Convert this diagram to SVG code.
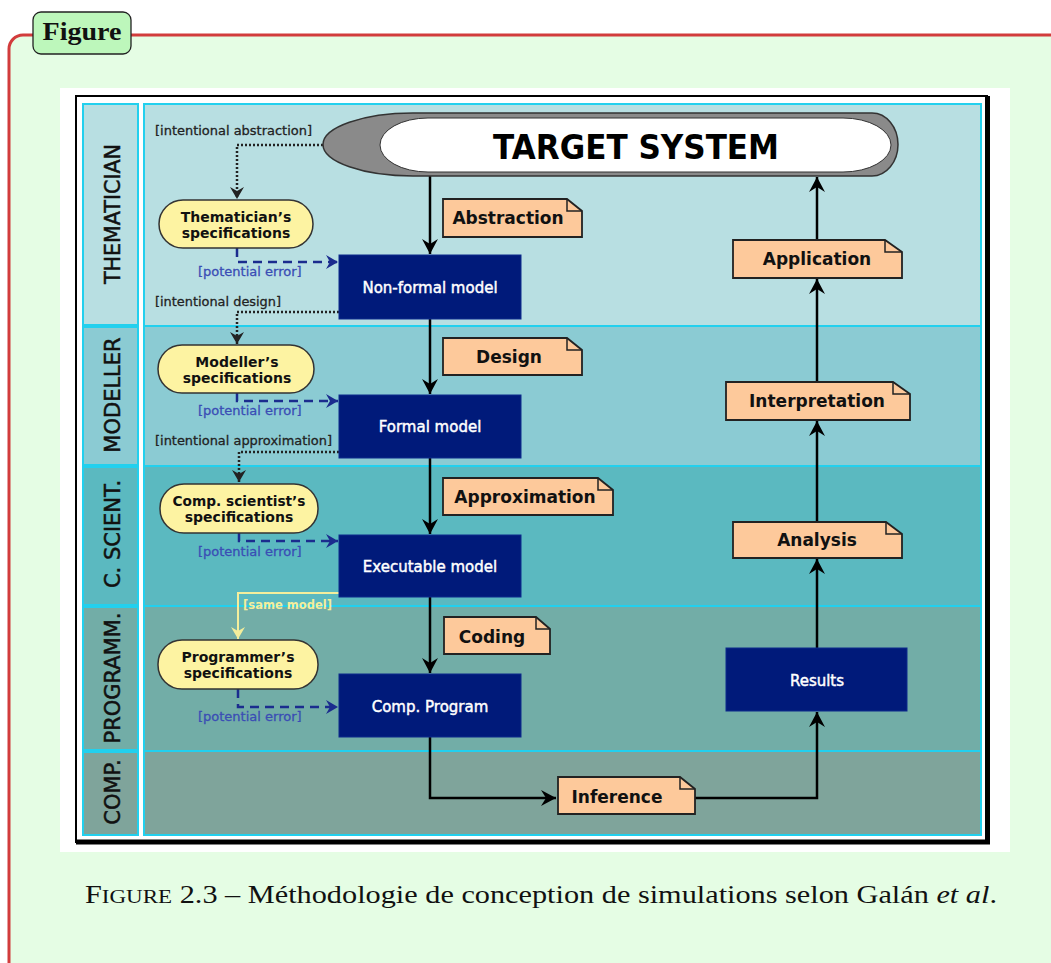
<svg xmlns="http://www.w3.org/2000/svg" width="1051" height="963" viewBox="0 0 1051 963">
<style>
.lane{stroke:#22d0ee;stroke-width:2}
.lbl{font-family:"DejaVu Sans",Verdana,sans-serif;font-size:21px;fill:#111;stroke:#111;stroke-width:0.5;text-anchor:middle}
.spec{fill:#fdf3a2;stroke:#333;stroke-width:1.5}
.spectxt{font-family:"DejaVu Sans",Verdana,sans-serif;font-weight:bold;font-size:14px;fill:#111;text-anchor:middle}
.box{fill:#001a7a;stroke:#0d2a8c;stroke-width:1}
.boxtxt{font-family:"DejaVu Sans",Verdana,sans-serif;font-size:15px;fill:#fff;stroke:#fff;stroke-width:0.45;text-anchor:middle}
.note{fill:#fdc99b;stroke:#222;stroke-width:1.8;stroke-linejoin:miter}
.fold{fill:none;stroke:#222;stroke-width:1.5}
.notetxt{font-family:"DejaVu Sans",Verdana,sans-serif;font-weight:bold;font-size:17px;fill:#111;text-anchor:middle}
.flow{fill:none;stroke:#000;stroke-width:2.5}
.dot{fill:none;stroke:#222;stroke-width:2.5;stroke-dasharray:2 2}
.dash{fill:none;stroke:#1b2c8e;stroke-width:2.5;stroke-dasharray:9 6}
.same{fill:none;stroke:#f4ee9c;stroke-width:2}
.small{font-family:"DejaVu Sans",Verdana,sans-serif;font-size:13px;stroke-width:0.3}
</style>
<defs>
<marker id="ah" viewBox="-17 -10 19 20" markerWidth="19" markerHeight="20" refX="0" refY="0" orient="auto" markerUnits="userSpaceOnUse"><path d="M-15,-8 L0,0 L-15,8 L-10,0 Z" fill="#000"/></marker>
<marker id="ahd" viewBox="-15 -9 17 18" markerWidth="17" markerHeight="18" refX="0" refY="0" orient="auto" markerUnits="userSpaceOnUse"><path d="M-12,-7 L0,0 L-12,7 L-8,0 Z" fill="#222"/></marker>
<marker id="ahb" viewBox="-15 -9 17 18" markerWidth="17" markerHeight="18" refX="0" refY="0" orient="auto" markerUnits="userSpaceOnUse"><path d="M-12,-7 L0,0 L-12,7 L-8,0 Z" fill="#1b2c8e"/></marker>
<marker id="ahy" viewBox="-15 -9 17 18" markerWidth="17" markerHeight="18" refX="0" refY="0" orient="auto" markerUnits="userSpaceOnUse"><path d="M-12,-7 L0,0 L-12,7 L-8,0 Z" fill="#f4ee9c"/></marker>
</defs>

<g id="frame">
<rect x="9" y="35" width="1070" height="960" rx="14" fill="#e5fde4" stroke="#d23c3c" stroke-width="3"/>
<rect x="33" y="12" width="98" height="42" rx="8" fill="#bdf7bb" stroke="#222" stroke-width="1.3"/>
<text x="82" y="40" font-family="'Liberation Serif',serif" font-weight="bold" font-size="26" text-anchor="middle" textLength="79" lengthAdjust="spacingAndGlyphs" fill="#111">Figure</text>
</g>

<g id="picture">
<rect x="60" y="88" width="950" height="764" fill="#fff"/>
<rect x="76" y="96" width="911" height="746" fill="none" stroke="#000" stroke-width="2"/>
<line x1="987.5" y1="96" x2="987.5" y2="844" stroke="#000" stroke-width="5"/>
<line x1="76" y1="842" x2="990" y2="842" stroke="#000" stroke-width="5"/>
</g>

<g id="lanes">
<rect class="lane" x="83" y="104" width="55" height="221" fill="#b8dfe2"/>
<rect class="lane" x="144" y="104" width="837" height="222" fill="#b8dfe2"/>
<rect class="lane" x="83" y="327" width="55" height="138" fill="#8bcbd3"/>
<rect class="lane" x="144" y="326" width="837" height="140" fill="#8bcbd3"/>
<rect class="lane" x="83" y="467" width="55" height="138" fill="#5bb9c0"/>
<rect class="lane" x="144" y="466" width="837" height="140" fill="#5bb9c0"/>
<rect class="lane" x="83" y="607" width="55" height="143" fill="#72ada7"/>
<rect class="lane" x="144" y="606" width="837" height="145" fill="#72ada7"/>
<rect class="lane" x="83" y="752" width="55" height="83" fill="#7fa49b"/>
<rect class="lane" x="144" y="751" width="837" height="84" fill="#7fa49b"/>
<text class="lbl" transform="translate(120,214) rotate(-90)" textLength="140" lengthAdjust="spacingAndGlyphs">THEMATICIAN</text>
<text class="lbl" transform="translate(120,395) rotate(-90)">MODELLER</text>
<text class="lbl" transform="translate(120,534) rotate(-90)">C. SCIENT.</text>
<text class="lbl" transform="translate(120,678) rotate(-90)">PROGRAMM.</text>
<text class="lbl" transform="translate(120,792) rotate(-90)">COMP.</text>
</g>

<g id="connectors">
<line class="flow" x1="430" y1="176" x2="430" y2="254" marker-end="url(#ah)"/>
<line class="flow" x1="430" y1="319" x2="430" y2="394" marker-end="url(#ah)"/>
<line class="flow" x1="430" y1="458" x2="430" y2="534" marker-end="url(#ah)"/>
<line class="flow" x1="430" y1="597" x2="430" y2="673" marker-end="url(#ah)"/>
<path class="flow" d="M430,737 L430,798 L556,798" marker-end="url(#ah)"/>
<path class="flow" d="M695,798 L817,798 L817,712" marker-end="url(#ah)"/>
<line class="flow" x1="817" y1="648" x2="817" y2="559" marker-end="url(#ah)"/>
<line class="flow" x1="817" y1="522" x2="817" y2="421" marker-end="url(#ah)"/>
<line class="flow" x1="817" y1="382" x2="817" y2="279" marker-end="url(#ah)"/>
<line class="flow" x1="817" y1="240" x2="817" y2="177" marker-end="url(#ah)"/>

<path class="dot" d="M323,145 L237,145 L237,199" marker-end="url(#ahd)"/>
<path class="dot" d="M339,312 L237,312 L237,344" marker-end="url(#ahd)"/>
<path class="dot" d="M339,452 L239,452 L239,482" marker-end="url(#ahd)"/>
<path class="same" d="M339,593 L238,593 L238,639" marker-end="url(#ahy)"/>

<path class="dash" d="M237,248 L237,262 L338,262" marker-end="url(#ahb)"/>
<path class="dash" d="M237,393 L237,401 L338,401" marker-end="url(#ahb)"/>
<path class="dash" d="M239,533 L239,541 L338,541" marker-end="url(#ahb)"/>
<path class="dash" d="M238,689 L238,707 L338,707" marker-end="url(#ahb)"/>

<text class="small" x="155" y="135" fill="#222" stroke="#222" textLength="157" lengthAdjust="spacingAndGlyphs">[intentional abstraction]</text>
<text class="small" x="155" y="306" fill="#222" stroke="#222" textLength="126" lengthAdjust="spacingAndGlyphs">[intentional design]</text>
<text class="small" x="155" y="445" fill="#222" stroke="#222" textLength="177" lengthAdjust="spacingAndGlyphs">[intentional approximation]</text>
<text class="small" x="243" y="609" fill="#f4ee9c" font-weight="bold" textLength="89" lengthAdjust="spacingAndGlyphs">[same model]</text>
<text class="small" x="198" y="276" fill="#3a4db5" stroke="#3a4db5">[potential error]</text>
<text class="small" x="198" y="415" fill="#3a4db5" stroke="#3a4db5">[potential error]</text>
<text class="small" x="198" y="556" fill="#3a4db5" stroke="#3a4db5">[potential error]</text>
<text class="small" x="198" y="721" fill="#3a4db5" stroke="#3a4db5">[potential error]</text>
</g>

<g id="target-system">
<path d="M413,113 L872,113 A26,31.5 0 0 1 872,176 L413,176 A90,31.5 0 0 1 413,113 Z" fill="#8a8a8a" stroke="#333" stroke-width="1.5"/>
<rect x="380" y="118" width="511" height="54" rx="48" ry="27" fill="#fff" stroke="#333" stroke-width="1"/>
<text x="636" y="159" font-family="'DejaVu Sans',Verdana,sans-serif" font-weight="bold" font-size="33" text-anchor="middle" textLength="286" lengthAdjust="spacingAndGlyphs" fill="#000">TARGET SYSTEM</text>
</g>

<g id="thematician-spec">
<rect class="spec" x="159" y="200" width="154" height="48" rx="24"/>
<text class="spectxt" x="236" y="222">Thematician’s</text>
<text class="spectxt" x="236" y="238">specifications</text>
</g>
<g id="modeller-spec">
<rect class="spec" x="158" y="345" width="156" height="48" rx="24"/>
<text class="spectxt" x="237" y="367">Modeller’s</text>
<text class="spectxt" x="237" y="383">specifications</text>
</g>
<g id="compsci-spec">
<rect class="spec" x="160" y="484" width="158" height="49" rx="24"/>
<text class="spectxt" x="239" y="506" textLength="133" lengthAdjust="spacingAndGlyphs">Comp. scientist’s</text>
<text class="spectxt" x="239" y="522">specifications</text>
</g>
<g id="programmer-spec">
<rect class="spec" x="158" y="640" width="160" height="49" rx="24"/>
<text class="spectxt" x="238" y="662">Programmer’s</text>
<text class="spectxt" x="238" y="678">specifications</text>
</g>

<g id="non-formal-model">
<rect class="box" x="339" y="255" width="182" height="64"/>
<text class="boxtxt" x="430" y="293">Non-formal model</text>
</g>
<g id="formal-model">
<rect class="box" x="339" y="395" width="182" height="63"/>
<text class="boxtxt" x="430" y="432">Formal model</text>
</g>
<g id="executable-model">
<rect class="box" x="339" y="535" width="182" height="62"/>
<text class="boxtxt" x="430" y="572">Executable model</text>
</g>
<g id="comp-program">
<rect class="box" x="339" y="674" width="182" height="63"/>
<text class="boxtxt" x="430" y="712">Comp. Program</text>
</g>
<g id="results">
<rect class="box" x="726" y="648" width="181" height="63"/>
<text class="boxtxt" x="817" y="686">Results</text>
</g>

<g id="abstraction">
<path class="note" d="M443,199 L567,199 L582,211 L582,237 L443,237 Z"/>
<path class="fold" d="M567,199 L567,211 L582,211"/>
<text class="notetxt" x="508" y="224">Abstraction</text>
</g>
<g id="design">
<path class="note" d="M443,338 L567,338 L582,350 L582,375 L443,375 Z"/>
<path class="fold" d="M567,338 L567,350 L582,350"/>
<text class="notetxt" x="509" y="363">Design</text>
</g>
<g id="approximation">
<path class="note" d="M443,478 L598,478 L613,490 L613,515 L443,515 Z"/>
<path class="fold" d="M598,478 L598,490 L613,490"/>
<text class="notetxt" x="525" y="503">Approximation</text>
</g>
<g id="coding">
<path class="note" d="M444,617 L536,617 L550,629 L550,654 L444,654 Z"/>
<path class="fold" d="M536,617 L536,629 L550,629"/>
<text class="notetxt" x="492" y="643">Coding</text>
</g>
<g id="inference">
<path class="note" d="M558,777 L680,777 L695,789 L695,814 L558,814 Z"/>
<path class="fold" d="M680,777 L680,789 L695,789"/>
<text class="notetxt" x="617" y="803">Inference</text>
</g>
<g id="analysis">
<path class="note" d="M733,522 L886,522 L902,534 L902,558 L733,558 Z"/>
<path class="fold" d="M886,522 L886,534 L902,534"/>
<text class="notetxt" x="817" y="546">Analysis</text>
</g>
<g id="interpretation">
<path class="note" d="M726,382 L893,382 L910,394 L910,420 L726,420 Z"/>
<path class="fold" d="M893,382 L893,394 L910,394"/>
<text class="notetxt" x="817" y="407">Interpretation</text>
</g>
<g id="application">
<path class="note" d="M733,240 L885,240 L902,252 L902,278 L733,278 Z"/>
<path class="fold" d="M885,240 L885,252 L902,252"/>
<text class="notetxt" x="817" y="265">Application</text>
</g>

<g id="caption">
<text x="85" y="903" font-family="'Liberation Serif',serif" font-size="25" fill="#111" textLength="912" lengthAdjust="spacingAndGlyphs">F<tspan font-size="19">IGURE</tspan> 2.3 – Méthodologie de conception de simulations selon Galán <tspan font-style="italic">et al</tspan>.</text>
</g>
</svg>
